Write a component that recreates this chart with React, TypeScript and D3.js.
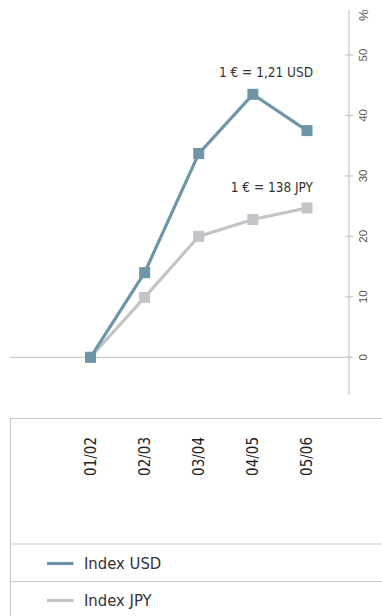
import React from "react";
import * as d3 from "d3";

// Fiscal-year periods and index development (in %) against the 01/02 base
const periods = ["01/02", "02/03", "03/04", "04/05", "05/06"];
const indexUSD = [0, 14, 33.7, 43.5, 37.5];
const indexJPY = [0, 9.9, 20, 22.8, 24.7];
const yTicks = [0, 10, 20, 30, 40, 50];
const seriesNames = ["Index USD", "Index JPY"];
const rateNotes = ["1 € = 1,21 USD", "1 € = 138 JPY"];

const W = 382;
const H = 616;
const COLORS = ["#6f96a8", "#c3c4c8"];
const GRID = "#c9c9c9";
const narrow = "'Liberation Sans Narrow', 'DejaVu Sans Condensed', 'Roboto Condensed', sans-serif";
const sans = "'Liberation Sans', Arial, sans-serif";

export default function App() {
  const x = d3.scalePoint<string>().domain(periods).range([90.5, 307]);
  const y = d3.scaleLinear().domain([0, 50]).range([357.3, 55]);
  const axisX = 349;

  const line = d3
    .line<number>()
    .x((_, i) => x(periods[i]) as number)
    .y((v) => y(v));

  const series = [indexUSD, indexJPY];
  const last = periods[periods.length - 1];

  return (
    <svg
      width={W}
      height={H}
      style={{ position: "absolute", left: 0, top: 0, background: "#fff" }}
    >
      {/* value axis */}
      <line x1={axisX} x2={axisX} y1={y(57.4)} y2={y(-6.2)} stroke={GRID} strokeWidth={1.3} />
      {yTicks.map((t) => (
        <g key={t}>
          <line x1={axisX - 4} x2={axisX + 4} y1={y(t)} y2={y(t)} stroke={GRID} strokeWidth={1.3} />
          <text
            transform={`translate(363,${y(t)}) rotate(-90)`}
            textAnchor="middle"
            dominantBaseline="central"
            fontFamily={sans}
            fontSize={11.5}
            fill="#555"
          >
            {t}
          </text>
        </g>
      ))}
      <text
        transform={`translate(363,${y(56.6)}) rotate(-90)`}
        textAnchor="middle"
        dominantBaseline="central"
        fontFamily={sans}
        fontSize={13}
        fill="#555"
      >
        %
      </text>
      {/* zero line */}
      <line x1={10} x2={axisX + 4} y1={y(0)} y2={y(0)} stroke={GRID} strokeWidth={1.3} />

      {/* series lines and markers (JPY drawn first, USD on top) */}
      {[1, 0].map((s) => (
        <g key={s}>
          <path d={line(series[s]) || ""} fill="none" stroke={COLORS[s]} strokeWidth={3.2} />
          {series[s].map((v, i) => (
            <rect
              key={i}
              x={(x(periods[i]) as number) - 5.5}
              y={y(v) - 5.5}
              width={11}
              height={11}
              fill={COLORS[s]}
            />
          ))}
        </g>
      ))}

      {/* exchange-rate notes */}
      <text x={(x(last) as number) + 6} y={y(indexUSD[3]) - 17} textAnchor="end" fontFamily={narrow} fontSize={13.5} fill="#333">
        {rateNotes[0]}
      </text>
      <text x={(x(last) as number) + 6} y={y(indexJPY[4]) - 16} textAnchor="end" fontFamily={narrow} fontSize={13.5} fill="#333">
        {rateNotes[1]}
      </text>

      {/* category table */}
      <line x1={10} x2={W} y1={418.5} y2={418.5} stroke={GRID} strokeWidth={1.2} />
      <line x1={10.5} x2={10.5} y1={418} y2={H} stroke={GRID} strokeWidth={1.2} />
      <line x1={10} x2={W} y1={544} y2={544} stroke={GRID} strokeWidth={1.2} />
      <line x1={10} x2={W} y1={581.5} y2={581.5} stroke={GRID} strokeWidth={1.2} />
      {periods.map((p) => (
        <text
          key={p}
          transform={`translate(${x(p)},437) rotate(-90)`}
          textAnchor="end"
          dominantBaseline="central"
          fontFamily={narrow}
          fontSize={15}
          fill="#222"
        >
          {p}
        </text>
      ))}

      {/* legend */}
      {seriesNames.map((n, i) => (
        <g key={n} transform={`translate(0,${563.5 + i * 37})`}>
          <line x1={47} x2={73.5} y1={0} y2={0} stroke={COLORS[i]} strokeWidth={3.2} />
          <text x={84} y={0} dominantBaseline="central" fontFamily={narrow} fontSize={16.5} fill="#333">
            {n}
          </text>
        </g>
      ))}
    </svg>
  );
}
